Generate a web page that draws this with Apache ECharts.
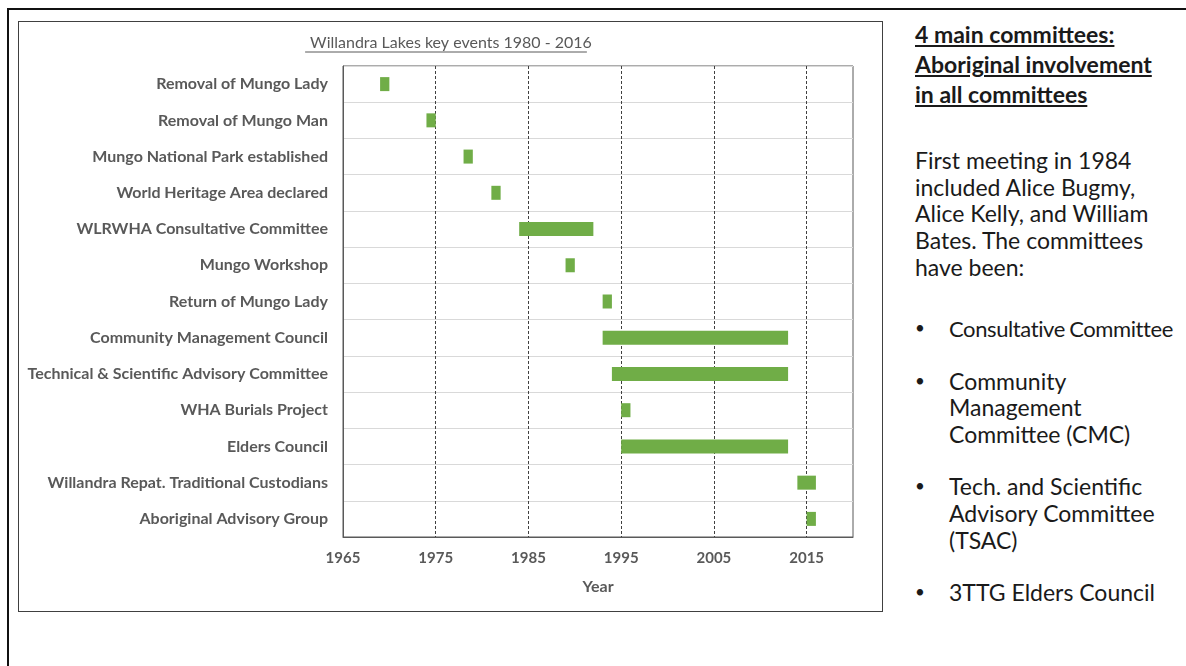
<!DOCTYPE html>
<html>
<head>
<meta charset="utf-8">
<script src="https://cdn.jsdelivr.net/npm/echarts@6/dist/echarts.min.js"></script>
<style>
	html, body { margin: 0; padding: 0; background: #fff; }
	body { width: 1186px; height: 666px; position: relative; overflow: hidden; font-family: Lato, "Open Sans", sans-serif; }
	#slide { position: absolute; left: 7px; top: 8px; width: 1200px; height: 700px; border-left: 2px solid #111; border-top: 2px solid #111; }
	#frame { position: absolute; left: 18px; top: 21px; width: 865px; height: 591px; border: 1px solid #404040; box-sizing: border-box; }
	#chart { position: absolute; left: 0; top: 0; width: 863px; height: 589px; }
	#side { position: absolute; left: 915px; top: 19px; width: 268px; color: #1a1a1a; font-size: 23px; white-space: nowrap; }
	#side .head { font-weight: bold; text-decoration: underline; line-height: 30px; }
	#side .body { margin-top: 38px; line-height: 26.7px; }
	#side ul { list-style: none; margin: 34px 0 0 0; padding: 0; line-height: 26.7px; }
	#side li { position: relative; padding-left: 34px; margin-bottom: 25.4px; }
	#side li.tight span { font-size: 22px; letter-spacing: -0.4px; word-spacing: -1px; }
	#side li:before { content: "\2022"; position: absolute; left: 0; top: 0; font-size: 17px; }
</style>
</head>
<body>
<div id="slide"></div>
<div id="frame"><div id="chart"></div></div>
<div id="side">
	<div class="head">4 main committees:<br>Aboriginal involvement<br>in all committees</div>
	<div class="body">First meeting in 1984<br>included Alice Bugmy,<br>Alice Kelly, and William<br>Bates. The committees<br>have been:</div>
	<ul>
		<li class="tight"><span>Consultative Committee</span></li>
		<li>Community<br>Management<br>Committee (CMC)</li>
		<li>Tech. and Scientific<br>Advisory Committee<br>(TSAC)</li>
		<li>3TTG Elders Council</li>
	</ul>
</div>
<script>
//事件名称
var categories = [
	'Removal of Mungo Lady',
	'Removal of Mungo Man',
	'Mungo National Park established',
	'World Heritage Area declared',
	'WLRWHA Consultative Committee',
	'Mungo Workshop',
	'Return of Mungo Lady',
	'Community Management Council',
	'Technical & Scientific Advisory Committee',
	'WHA Burials Project',
	'Elders Council',
	'Willandra Repat. Traditional Custodians',
	'Aboriginal Advisory Group'
];
//开始年份 / 结束年份
var startYears = [1969, 1974, 1978, 1981, 1984, 1989, 1993, 1993, 1994, 1995, 1995, 2014, 2015];
var endYears = [1970, 1975, 1979, 1982, 1992, 1990, 1994, 2013, 2013, 1996, 2013, 2016, 2016];
//横轴刻度
var yearTicks = [1965, 1975, 1985, 1995, 2005, 2015];
var chartTitle = 'Willandra Lakes key events 1980 - 2016';

var durations = [];
for(var i = 0; i < startYears.length; i++) {
	durations.push(endYears[i] - startYears[i]);
}

//标题下划线长度
var ctx = document.createElement('canvas').getContext('2d');
ctx.font = '16px Lato';
var titleW = ctx.measureText(chartTitle).width;
var titleX = 427;

var labelFont = {
	fontFamily: 'Lato',
	fontSize: 16,
	fontWeight: 'bold',
	color: '#595959'
};

var myChart = echarts.init(document.getElementById('chart'));
var option = {
	animation: false,
	title: {
		text: chartTitle,
		left: titleX,
		top: 8,
		textAlign: 'center',
		textStyle: {
			fontFamily: 'Lato',
			fontSize: 16,
			fontWeight: 'normal',
			color: '#595959'
		}
	},
	graphic: [{
		type: 'line',
		shape: { x1: titleX - titleW / 2, y1: 30, x2: titleX + titleW / 2, y2: 30 },
		style: { stroke: '#595959', lineWidth: 1 },
		silent: true
	}],
	grid: {
		left: 324,
		top: 44,
		width: 510,
		height: 471,
		show: true,
		borderColor: '#595959',
		borderWidth: 1
	},
	xAxis: {
		type: 'value',
		min: 1965,
		max: 2020,
		name: 'Year',
		nameLocation: 'middle',
		nameGap: 42,
		nameTextStyle: labelFont,
		axisLine: { show: true, lineStyle: { color: '#595959' } },
		axisTick: { show: false, customValues: yearTicks },
		axisLabel: {
			customValues: yearTicks,
			margin: 14,
			fontFamily: 'Lato',
			fontSize: 15,
			fontWeight: 'bold',
			color: '#595959',
			formatter: function(v) {
				return String(v);
			}
		},
		splitLine: {
			show: true,
			lineStyle: { color: '#404040', type: [3, 2], width: 1 }
		}
	},
	yAxis: {
		type: 'category',
		inverse: true,
		data: categories,
		axisLine: { show: true, lineStyle: { color: '#595959' } },
		axisTick: { show: false },
		axisLabel: {
			margin: 15,
			fontFamily: 'Lato',
			fontSize: 16,
			fontWeight: 'bold',
			color: '#595959'
		},
		splitLine: {
			show: true,
			lineStyle: { color: '#d9d9d9', width: 1 }
		}
	},
	series: [{
		name: 'start',
		type: 'bar',
		stack: 'span',
		barWidth: 14,
		itemStyle: { color: 'rgba(0,0,0,0)' },
		silent: true,
		data: startYears
	}, {
		name: 'duration',
		type: 'bar',
		stack: 'span',
		barWidth: 14,
		itemStyle: { color: '#70AD47' },
		data: durations
	}]
};
myChart.setOption(option);
</script>
</body>
</html>
